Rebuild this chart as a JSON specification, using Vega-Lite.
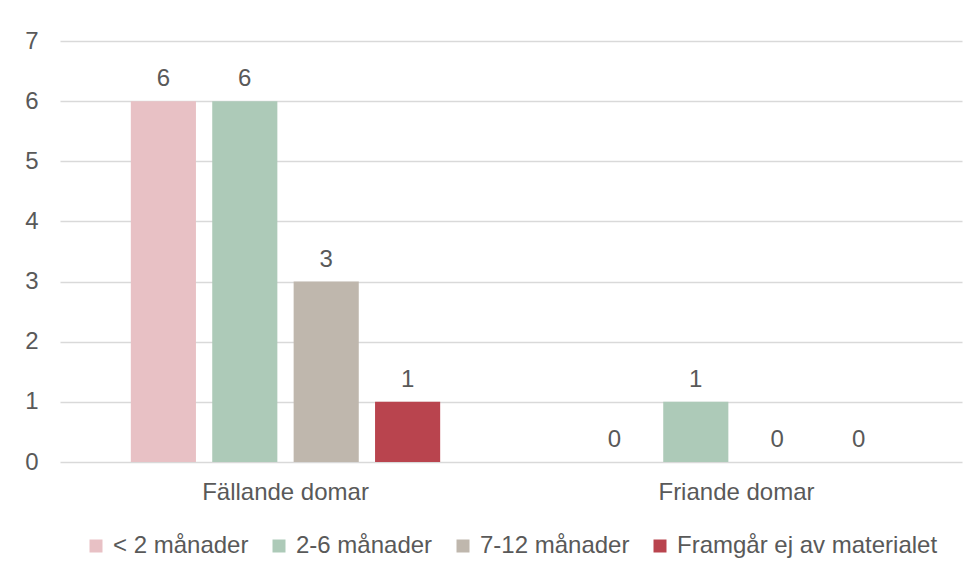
{
  "$schema": "https://vega.github.io/schema/vega-lite/v6.json",
  "autosize": "none",
  "width": 902,
  "height": 421,
  "padding": {"left": 60, "top": 41, "right": 15, "bottom": 109},
  "background": "white",
  "config": {
    "font": "Liberation Sans",
    "view": {"stroke": null},
    "axis": {"labelFont": "Liberation Sans", "labelColor": "#595959", "labelFontSize": 24, "title": null},
    "legend": {"layout": {"anchor": "middle"}}
  },
  "data": {
    "values": [
      {"dom": "Fällande domar", "tid": "< 2 månader", "antal": 6},
      {"dom": "Fällande domar", "tid": "2-6 månader", "antal": 6},
      {"dom": "Fällande domar", "tid": "7-12 månader", "antal": 3},
      {"dom": "Fällande domar", "tid": "Framgår ej av materialet", "antal": 1},
      {"dom": "Friande domar", "tid": "< 2 månader", "antal": 0},
      {"dom": "Friande domar", "tid": "2-6 månader", "antal": 1},
      {"dom": "Friande domar", "tid": "7-12 månader", "antal": 0},
      {"dom": "Friande domar", "tid": "Framgår ej av materialet", "antal": 0}
    ]
  },
  "encoding": {
    "x": {
      "field": "dom", "type": "nominal", "sort": ["Fällande domar", "Friande domar"],
      "scale": {"paddingInner": 0, "paddingOuter": 0},
      "axis": {"labelAngle": 0, "ticks": false, "domain": false, "labelPadding": 18, "labelBaseline": "top"}
    },
    "xOffset": {
      "field": "tid", "type": "nominal",
      "sort": ["< 2 månader", "2-6 månader", "7-12 månader", "Framgår ej av materialet"],
      "scale": {"paddingInner": 0.2, "paddingOuter": 0.87}
    },
    "y": {
      "field": "antal", "type": "quantitative",
      "scale": {"domain": [0, 7], "nice": false},
      "axis": {"values": [0, 1, 2, 3, 4, 5, 6, 7], "ticks": false, "domain": false, "labelPadding": 22, "gridColor": "#D9D9D9", "gridWidth": 1.5}
    }
  },
  "layer": [
    {
      "mark": {"type": "bar"},
      "encoding": {
        "color": {
          "field": "tid", "type": "nominal",
          "scale": {
            "domain": ["< 2 månader", "2-6 månader", "7-12 månader", "Framgår ej av materialet"],
            "range": ["#E8C1C5", "#ADCAB8", "#BFB7AD", "#B9444E"]
          },
          "legend": {
            "title": null, "orient": "bottom", "direction": "horizontal",
            "symbolType": "square", "symbolSize": 169, "symbolStrokeWidth": 0,
            "labelFontSize": 24, "labelColor": "#595959", "labelFont": "Liberation Sans",
            "labelOffset": 5, "columnPadding": 18, "offset": 30, "labelLimit": 400
          }
        }
      }
    },
    {
      "mark": {"type": "text", "dy": -15, "baseline": "alphabetic", "fontSize": 24, "color": "#595959", "font": "Liberation Sans"},
      "encoding": {"text": {"field": "antal", "type": "quantitative"}}
    }
  ]
}
